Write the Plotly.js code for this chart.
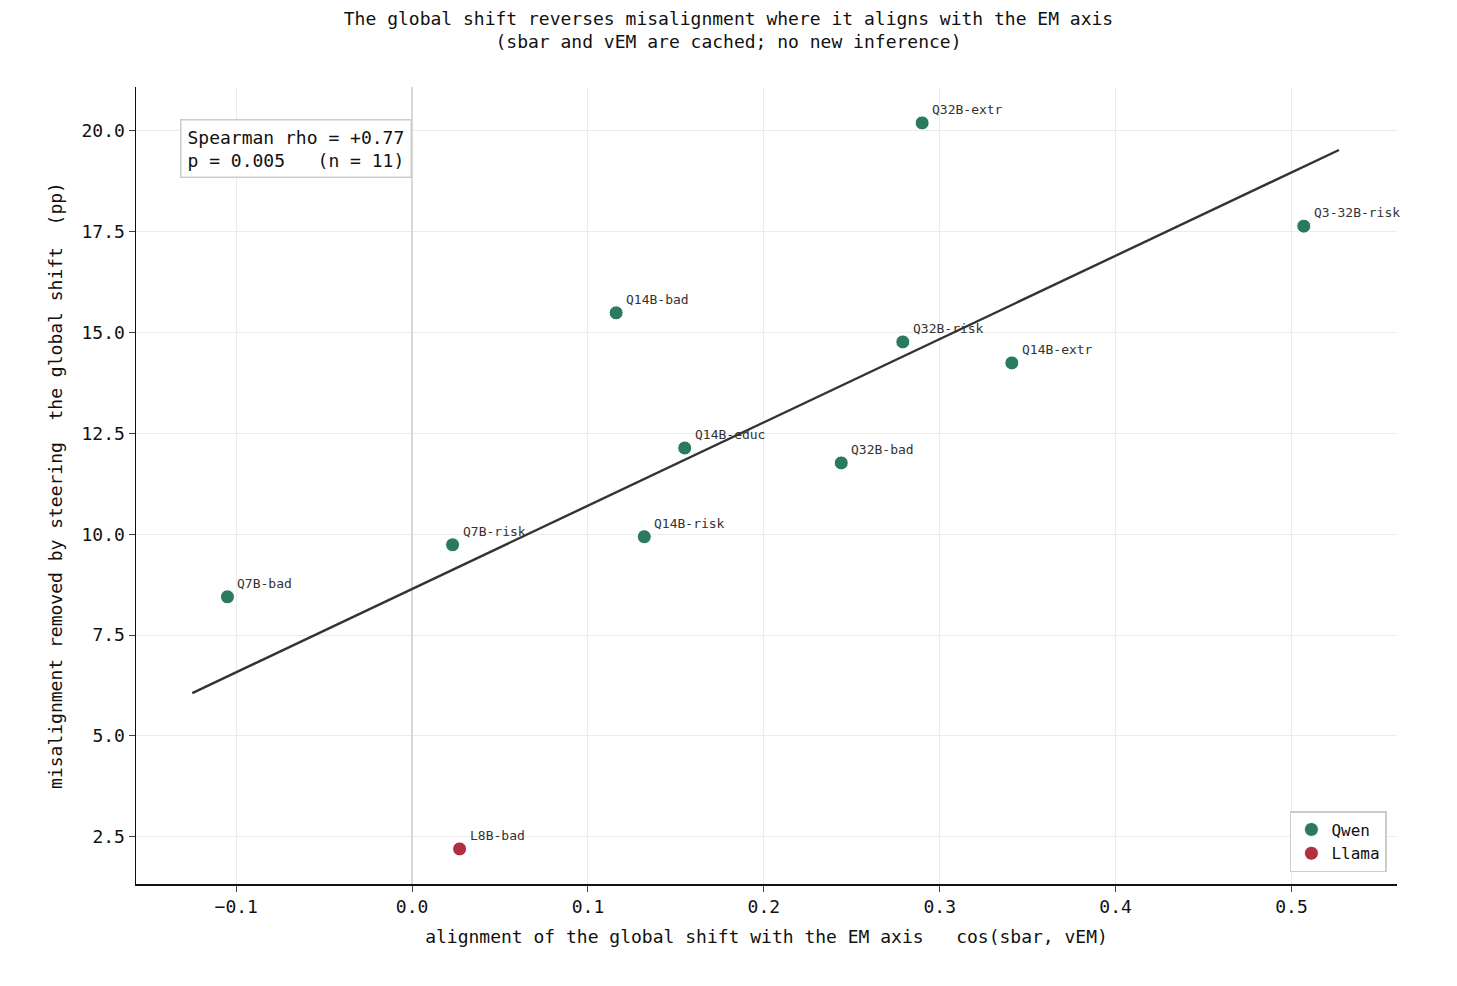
<!DOCTYPE html>
<html><head><meta charset="utf-8">
<script src="https://cdn.plot.ly/plotly-3.0.1.min.js"></script>
<style>body{margin:0}</style></head>
<body><div id="chart" style="width:1457px;height:986px"></div>
<script>
var labels = ['Q32B-extr','Q3-32B-risk','Q14B-bad','Q32B-risk','Q14B-extr','Q14B-educ','Q32B-bad','Q14B-risk','Q7B-risk','Q7B-bad','L8B-bad'];
var family = ['Qwen','Qwen','Qwen','Qwen','Qwen','Qwen','Qwen','Qwen','Qwen','Qwen','Llama'];
var cosVals = [0.290, 0.507, 0.116, 0.279, 0.341, 0.155, 0.244, 0.132, 0.023, -0.105, 0.027];
var removed = [20.2, 17.64, 15.49, 14.77, 14.25, 12.14, 11.77, 9.94, 9.74, 8.45, 2.2];

var FONT = 'DejaVu Sans Mono, monospace';
var colors = {Qwen: '#2a7a5f', Llama: '#b03040'};

// least-squares fit line
var n = cosVals.length, mx = 0, my = 0;
for (var i = 0; i < n; i++) { mx += cosVals[i] / n; my += removed[i] / n; }
var sxy = 0, sxx = 0;
for (var i = 0; i < n; i++) { sxy += (cosVals[i]-mx)*(removed[i]-my); sxx += (cosVals[i]-mx)*(cosVals[i]-mx); }
var slope = sxy / sxx, icpt = my - slope * mx;
var x0 = Math.min.apply(null, cosVals) - 0.02, x1 = Math.max.apply(null, cosVals) + 0.02;

var traces = [{
  x: [x0, x1], y: [icpt + slope*x0, icpt + slope*x1], mode: 'lines',
  line: {color: '#333333', width: 2.4}, showlegend: false, hoverinfo: 'skip'
}];
['Qwen', 'Llama'].forEach(function (f) {
  var xs = [], ys = [];
  for (var i = 0; i < n; i++) if (family[i] === f) { xs.push(cosVals[i]); ys.push(removed[i]); }
  traces.push({x: xs, y: ys, mode: 'markers', type: 'scatter', name: f,
    marker: {color: colors[f], size: 14, line: {color: 'white', width: 1}}});
});

var anns = labels.map(function (l, i) {
  return {x: cosVals[i], y: removed[i], text: l, showarrow: false, xanchor: 'left', yanchor: 'bottom',
    xshift: 8, yshift: 4, font: {family: FONT, size: 13, color: '#333'}};
});
anns.push({xref: 'paper', yref: 'paper', x: 0.035, y: 0.96, xanchor: 'left', yanchor: 'top', showarrow: false,
  align: 'left', text: 'Spearman rho = +0.77<br>p = 0.005   (n = 11)', bgcolor: 'white',
  bordercolor: '#cccccc', borderwidth: 1.5, borderpad: 6, font: {family: FONT, size: 18, color: '#111'}});

var layout = {
  width: 1457, height: 986,
  margin: {l: 136, r: 60, t: 87, b: 102},
  paper_bgcolor: 'white', plot_bgcolor: 'white',
  font: {family: FONT, size: 18, color: '#111'},
  title: {text: 'The global shift reverses misalignment where it aligns with the EM axis<br>(sbar and vEM are cached; no new inference)',
    x: 0.5, y: 0.975, yanchor: 'top', font: {family: FONT, size: 18}},
  xaxis: {range: [-0.157, 0.560], tickvals: [-0.1,0,0.1,0.2,0.3,0.4,0.5], tickformat: '.1f',
    showgrid: true, gridcolor: '#ebebeb', zeroline: true, zerolinecolor: '#d8d8d8', zerolinewidth: 2,
    showline: true, linecolor: '#111', linewidth: 1.5, ticks: 'outside', ticklen: 6,
    title: {text: 'alignment of the global shift with the EM axis   cos(sbar, vEM)', font: {size: 18}, standoff: 14}},
  yaxis: {range: [1.33, 21.09], tickvals: [2.5,5,7.5,10,12.5,15,17.5,20], tickformat: '.1f',
    showgrid: true, gridcolor: '#ebebeb', zeroline: false,
    showline: true, linecolor: '#111', linewidth: 1.5, ticks: 'outside', ticklen: 6,
    title: {text: 'misalignment removed by steering  the global shift  (pp)', font: {size: 18}, standoff: 14}},
  legend: {x: 0.992, y: 0.015, xanchor: 'right', yanchor: 'bottom', bordercolor: '#cccccc', borderwidth: 1.5,
    bgcolor: 'white', font: {family: FONT, size: 16}},
  annotations: anns
};
Plotly.newPlot('chart', traces, layout, {staticPlot: true});
</script></body></html>
